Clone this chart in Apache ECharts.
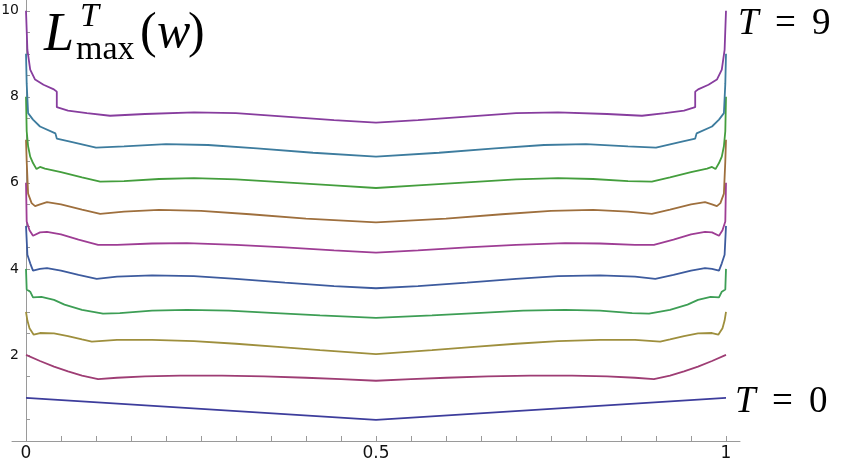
<!DOCTYPE html>
<html lang="en">
<head>
    <meta charset="utf-8">
    <title>L max T</title>
    <script src="https://cdn.jsdelivr.net/npm/echarts@6/dist/echarts.min.js"></script>
    <style>
        html, body { margin: 0; padding: 0; background: #fff; }
        #main { width: 845px; height: 464px; }
    </style>
</head>
<body>
<div id="main"></div>
<script type="text/javascript">
    // one curve per T, points as [w, L]
    var t0 = [[0, 1.0], [0.5, 0.49], [1, 1.0]];
    var t1 = [[0, 2.0], [0.02, 1.86], [0.04, 1.73], [0.06, 1.62], [0.08, 1.52], [0.103, 1.44], [0.13, 1.47], [0.17, 1.5], [0.22, 1.52], [0.28, 1.52], [0.34, 1.5], [0.4, 1.47], [0.45, 1.44], [0.5, 1.40],
        [0.55, 1.44], [0.6, 1.47], [0.66, 1.5], [0.72, 1.52], [0.78, 1.52], [0.83, 1.5], [0.87, 1.47], [0.897, 1.44], [0.92, 1.52], [0.94, 1.62], [0.96, 1.73], [0.98, 1.86], [1, 2.0]];
    var t2 = [[0, 3.0], [0.002, 2.8], [0.005, 2.62], [0.011, 2.47], [0.02, 2.51], [0.04, 2.5], [0.06, 2.44], [0.08, 2.36], [0.094, 2.31], [0.13, 2.35], [0.18, 2.35], [0.24, 2.32], [0.3, 2.26], [0.36, 2.19], [0.42, 2.11], [0.5, 2.02],
        [0.58, 2.11], [0.64, 2.19], [0.7, 2.26], [0.76, 2.32], [0.82, 2.35], [0.87, 2.35], [0.906, 2.31], [0.92, 2.36], [0.94, 2.44], [0.96, 2.5], [0.98, 2.51], [0.989, 2.47], [0.995, 2.62], [0.998, 2.8], [1, 3.0]];
    var t3 = [[0, 4.0], [0.001, 3.52], [0.006, 3.47], [0.01, 3.34], [0.022, 3.35], [0.04, 3.28], [0.055, 3.17], [0.08, 3.05], [0.11, 2.96], [0.134, 2.97], [0.18, 3.03], [0.23, 3.05], [0.29, 3.03], [0.35, 2.98], [0.42, 2.92], [0.5, 2.86],
        [0.58, 2.92], [0.65, 2.98], [0.71, 3.03], [0.77, 3.05], [0.82, 3.03], [0.866, 2.97], [0.89, 2.96], [0.92, 3.05], [0.945, 3.17], [0.96, 3.28], [0.978, 3.35], [0.99, 3.34], [0.994, 3.47], [0.999, 3.52], [1, 4.0]];
    var t4 = [[0, 5.0], [0.002, 4.33], [0.006, 4.13], [0.01, 3.96], [0.02, 4.0], [0.03, 4.02], [0.05, 3.96], [0.075, 3.86], [0.101, 3.77], [0.13, 3.82], [0.18, 3.85], [0.24, 3.83], [0.3, 3.77], [0.37, 3.68], [0.44, 3.6], [0.5, 3.55],
        [0.56, 3.6], [0.63, 3.68], [0.7, 3.77], [0.76, 3.83], [0.82, 3.85], [0.87, 3.82], [0.899, 3.77], [0.925, 3.86], [0.95, 3.96], [0.97, 4.02], [0.98, 4.0], [0.99, 3.96], [0.994, 4.13], [0.998, 4.33], [1, 5.0]];
    var t5 = [[0, 6.0], [0.001, 5.1], [0.005, 4.9], [0.01, 4.77], [0.02, 4.85], [0.03, 4.86], [0.05, 4.8], [0.075, 4.68], [0.103, 4.56], [0.13, 4.56], [0.18, 4.59], [0.23, 4.6], [0.3, 4.56], [0.37, 4.5], [0.44, 4.43], [0.5, 4.38],
        [0.56, 4.43], [0.63, 4.5], [0.7, 4.56], [0.77, 4.6], [0.82, 4.59], [0.87, 4.56], [0.897, 4.56], [0.925, 4.68], [0.95, 4.8], [0.97, 4.86], [0.98, 4.85], [0.99, 4.77], [0.995, 4.9], [0.999, 5.1], [1, 6.0]];
    var t6 = [[0, 7.0], [0.001, 6.5], [0.003, 5.75], [0.008, 5.53], [0.013, 5.46], [0.02, 5.5], [0.03, 5.55], [0.05, 5.5], [0.08, 5.38], [0.106, 5.28], [0.14, 5.33], [0.19, 5.37], [0.25, 5.35], [0.32, 5.27], [0.4, 5.17], [0.5, 5.08],
        [0.6, 5.17], [0.68, 5.27], [0.75, 5.35], [0.81, 5.37], [0.86, 5.33], [0.894, 5.28], [0.92, 5.38], [0.95, 5.5], [0.97, 5.55], [0.98, 5.5], [0.987, 5.46], [0.992, 5.53], [0.997, 5.75], [0.999, 6.5], [1, 7.0]];
    var t7 = [[0, 8.0], [0.001, 7.2], [0.003, 6.85], [0.006, 6.61], [0.01, 6.46], [0.015, 6.32], [0.02, 6.37], [0.027, 6.33], [0.05, 6.25], [0.08, 6.13], [0.106, 6.03], [0.14, 6.04], [0.19, 6.09], [0.24, 6.11], [0.3, 6.08], [0.37, 6.01], [0.44, 5.94], [0.5, 5.88],
        [0.56, 5.94], [0.63, 6.01], [0.7, 6.08], [0.76, 6.11], [0.81, 6.09], [0.86, 6.04], [0.894, 6.03], [0.92, 6.13], [0.95, 6.25], [0.973, 6.33], [0.98, 6.37], [0.985, 6.32], [0.99, 6.46], [0.994, 6.61], [0.997, 6.85], [0.999, 7.2], [1, 8.0]];
    var t8 = [[0, 9.0], [0.001, 8.3], [0.003, 7.62], [0.01, 7.47], [0.02, 7.31], [0.042, 7.15], [0.044, 7.03], [0.063, 6.96], [0.1, 6.82], [0.14, 6.85], [0.2, 6.9], [0.26, 6.88], [0.33, 6.8], [0.41, 6.7], [0.5, 6.61],
        [0.59, 6.7], [0.67, 6.8], [0.74, 6.88], [0.8, 6.9], [0.86, 6.85], [0.9, 6.82], [0.937, 6.96], [0.956, 7.03], [0.958, 7.15], [0.98, 7.31], [0.99, 7.47], [0.997, 7.62], [0.999, 8.3], [1, 9.0]];
    var t9 = [[0, 10.0], [0.002, 9.09], [0.006, 8.63], [0.013, 8.4], [0.025, 8.28], [0.039, 8.18], [0.044, 8.12], [0.044, 7.76], [0.06, 7.68], [0.087, 7.62], [0.12, 7.56], [0.17, 7.6], [0.24, 7.64], [0.3, 7.62], [0.38, 7.53], [0.44, 7.46], [0.5, 7.4],
        [0.56, 7.46], [0.62, 7.53], [0.7, 7.62], [0.76, 7.64], [0.83, 7.6], [0.88, 7.56], [0.913, 7.62], [0.94, 7.68], [0.956, 7.76], [0.956, 8.12], [0.961, 8.18], [0.975, 8.28], [0.987, 8.4], [0.994, 8.63], [0.998, 9.09], [1, 10.0]];

    var curves = [t0, t1, t2, t3, t4, t5, t6, t7, t8, t9];
    var colors = ['#3d3d9c', '#9e3d74', '#9e8f3d', '#3d9e55', '#3d5b9e', '#9e3d94', '#9e6f3d', '#449e3d', '#3d7c9e', '#873d9e'];

    // tick positions and labels
    var xTicks = [0, 0.05, 0.1, 0.15, 0.2, 0.25, 0.3, 0.35, 0.4, 0.45, 0.5, 0.55, 0.6, 0.65, 0.7, 0.75, 0.8, 0.85, 0.9, 0.95, 1];
    var xLabels = [0, 0.5, 1];
    var yTicks = [0.5, 1, 1.5, 2, 2.5, 3, 3.5, 4, 4.5, 5, 5.5, 6, 6.5, 7, 7.5, 8, 8.5, 9, 9.5, 10];
    var yLabels = [2, 4, 6, 8, 10];

    var serif = '"Liberation Serif", "DejaVu Serif", serif';

    var series = [];
    for (var i = 0; i < curves.length; i++) {
        series.push({
            name: 'T=' + i,
            type: 'line',
            data: curves[i],
            showSymbol: false,
            symbol: 'none',
            lineStyle: { color: colors[i], width: 1.8 },
            animation: false
        });
    }

    function label(txt, x, y, size, italic) {
        return { type: 'text', left: x, top: y, style: { text: txt, font: (italic ? 'italic ' : '') + size + 'px ' + serif, fill: '#000' } };
    }

    var myChart = echarts.init(document.getElementById('main'));
    myChart.setOption({
        backgroundColor: '#fff',
        animation: false,
        grid: { left: 12, right: 105, top: 0, bottom: 23, outerBoundsMode: 'none', containLabel: false },
        xAxis: {
            type: 'value',
            min: -0.02,
            max: 1.02,
            splitLine: { show: false },
            axisLine: { onZero: true, lineStyle: { color: '#9a9a9a', width: 1 } },
            axisTick: { inside: true, length: 5, customValues: xTicks, lineStyle: { color: '#9a9a9a' } },
            axisLabel: {
                customValues: xLabels,
                margin: 4,
                color: '#111',
                fontSize: 17,
                fontFamily: '"DejaVu Sans", sans-serif',
                formatter: function (v) { return String(v); }
            }
        },
        yAxis: {
            type: 'value',
            min: 0,
            max: 10.25,
            splitLine: { show: false },
            axisLine: { onZero: true, lineStyle: { color: '#9a9a9a', width: 1 } },
            axisTick: { inside: true, length: 4, customValues: yTicks, lineStyle: { color: '#9a9a9a' } },
            axisLabel: {
                customValues: yLabels,
                margin: -7,
                color: '#111',
                fontSize: 14,
                fontFamily: '"DejaVu Sans", sans-serif'
            }
        },
        graphic: [
            label('L', 44, 9, 54, true),
            label('T', 80, 0, 34, true),
            label('max', 76, 33, 34, false),
            label('(', 140, 9, 50, false),
            label('w', 157, 9, 50, true),
            label(')', 188, 9, 50, false),
            label('T', 738, 6, 37, true),
            label('=', 775, 6, 37, false),
            label('9', 812, 6, 37, false),
            label('T', 735, 384, 37, true),
            label('=', 772, 384, 37, false),
            label('0', 809, 384, 37, false)
        ],
        series: series
    });
</script>
</body>
</html>
